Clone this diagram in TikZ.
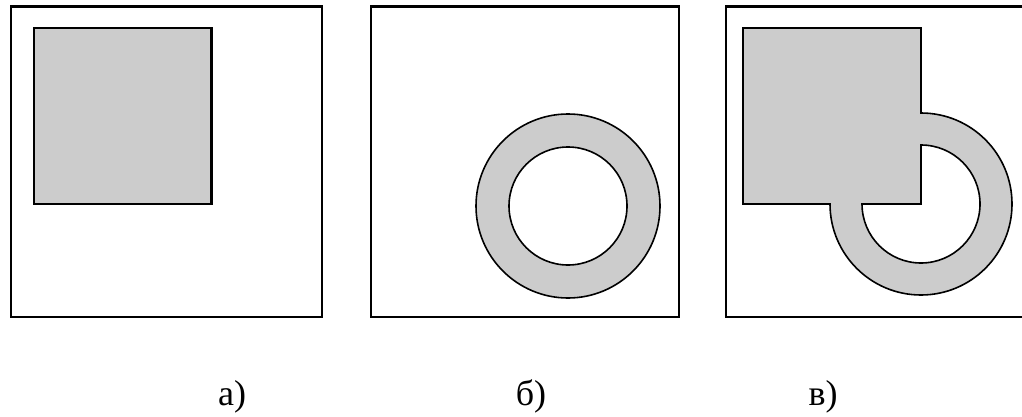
\documentclass[tikz,border=0pt]{standalone}
\usepackage{fontspec}
\setmainfont{Liberation Serif}
\newfontfamily\lblfont{Liberation Serif}
\definecolor{fillgray}{RGB}{204,204,204}
\begin{document}
\begin{tikzpicture}[x=1pt,y=1pt,
  frame/.style={draw=black,line width=1.6pt},
  topedge/.style={draw=black,line width=3pt},
  grayshape/.style={draw=black,line width=1.6pt,fill=fillgray,even odd rule},
  lbl/.style={anchor=base,inner sep=0pt,font=\lblfont\fontsize{36}{40}\selectfont}]
\useasboundingbox (0,0) rectangle (1022,416);
\clip (0,0) rectangle (1022,416);
% panel a
\draw[frame] (11,99) rectangle (322,409);
\draw[topedge] (10,409) -- (323,409);
\draw[grayshape] (34,212) rectangle (212,388);
\draw[black,line width=3pt] (211,212) -- (211,388);
% panel b
\draw[frame] (371,99) rectangle (679,409);
\draw[topedge] (370,409) -- (680,409);
\draw[grayshape] (568,210) circle[radius=92] (568,210) circle[radius=59];
% panel c
\draw[frame] (726,99) rectangle (1060,409);
\draw[topedge] (725,409) -- (1060,409);
\draw[grayshape] (743,388) -- (921,388) -- (921,303) arc[start angle=90,end angle=-180,radius=91] -- (743,212) -- cycle
  (921,271) -- (921,212) -- (862,212) arc[start angle=180,end angle=450,radius=59] -- cycle;
% labels
\node[lbl] (la) at (232,11) {а)};
\node[lbl] (lb) at (531,11) {б)};
\node[lbl] (lc) at (823,11) {в)};
\end{tikzpicture}
\end{document}
